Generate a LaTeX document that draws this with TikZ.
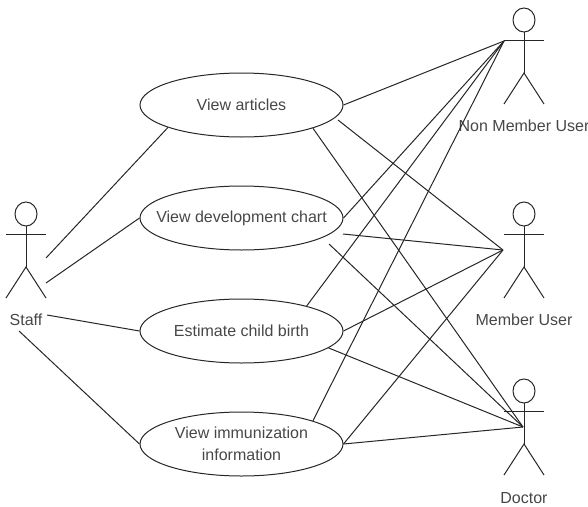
\documentclass[tikz,border=0pt]{standalone}
\usepackage{fontspec}
\setmainfont{Liberation Sans}
\usetikzlibrary{shapes.geometric}
\tikzset{
  usecase/.style={draw=black!85,line width=1pt,ellipse,minimum width=203pt,minimum height=64pt,inner xsep=-40pt,inner ysep=-10pt,align=center,font=\fontsize{16}{22}\selectfont,text=black!72},
  actorlabel/.style={inner sep=0pt,font=\fontsize{16}{18}\selectfont,text=black!72},
  link/.style={draw=black!85,line width=1pt},
  actorline/.style={draw=black!85,line width=1pt}
}
\newcommand{\stick}[3]{% name, x, y of head centre
  \draw[actorline] (#2,#3) ellipse[x radius=11,y radius=12];
  \draw[actorline] (#2-20,#3+20) -- (#2+20,#3+20);
  \draw[actorline] (#2,#3+12) -- (#2,#3+53);
  \draw[actorline] (#2-20,#3+84) -- (#2,#3+53) -- (#2+20,#3+84);
}
\begin{document}
\begin{tikzpicture}[x=1pt,y=-1pt]
\useasboundingbox (0,0) rectangle (588,506);
\stick{staff}{26}{214}
\stick{nm}{524}{20}
\stick{mu}{524}{214}
\stick{dr}{524}{391}
\node[actorlabel] (staffl) at (26,320) {Staff};
\node[actorlabel] (nml) at (524,126) {Non Member User};
\node[actorlabel] (mul) at (524,320) {Member User};
\node[actorlabel] (drl) at (524,498) {Doctor};
\coordinate (nmh) at (504,41);
\coordinate (muh) at (503,250);
\coordinate (drh) at (523,427);
\coordinate (s1) at (46,258);
\coordinate (s2) at (46,283);
\coordinate (s3) at (47,315);
\coordinate (s4) at (19,331);
\coordinate (g1) at (338,120);
\coordinate (g2) at (343,234);
\coordinate (g3) at (329,244);
\node[usecase] (u1) at (241.5,105) {View articles};
\node[usecase] (u2) at (241.5,218) {View development chart};
\node[usecase] (u3) at (241.5,331) {Estimate child birth};
\node[usecase] (u4) at (241.5,444) {View immunization\\information};
\draw[link] (s1) -- (u1.197.7);
\draw[link] (s2) -- (u2.west);
\draw[link] (s3) -- (u3.west);
\draw[link] (s4) -- (u4.west);
\draw[link] (u1.east) -- (nmh);
\draw[link] (u2.east) -- (nmh);
\draw[link] (u3.21.3) -- (nmh);
\draw[link] (u4.18.5) -- (nmh);
\draw[link] (g1) -- (muh);
\draw[link] (g2) -- (muh);
\draw[link] (u3.east) -- (muh);
\draw[link] (u4.east) -- (muh);
\draw[link] (u1.342.3) -- (drh);
\draw[link] (g3) -- (drh);
\draw[link] (u3.349.5) -- (drh);
\draw[link] (u4.east) -- (drh);
\end{tikzpicture}
\end{document}
